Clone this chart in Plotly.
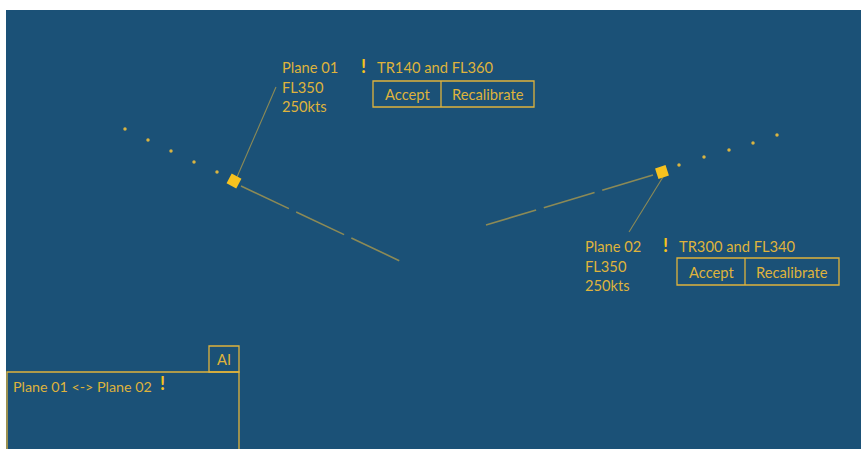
import plotly.graph_objects as go

# ---- data (pixel-space coordinates of the radar scene) ----
plane_names = ["Plane 01", "Plane 02"]
plane_x = [234, 662]
plane_y = [181, 172]
plane_angle = [28, -18]
plane_fl = ["FL350", "FL350"]
plane_speed = ["250kts", "250kts"]
advice = ["TR140 and FL360", "TR300 and FL340"]

trail1_x = [125, 148, 171, 194, 217]
trail1_y = [129, 140, 151, 162, 172]
trail2_x = [679, 704, 729, 753, 777]
trail2_y = [165, 157, 150, 143, 135]

track1_x = [241, 400]
track1_y = [186, 261]
track2_x = [653, 486]
track2_y = [175, 225]

leader1_x = [237, 276]
leader1_y = [177, 87]
leader2_x = [663, 629]
leader2_y = [177, 232]

label_x = [282, 585]
label_y = [67, 246]
alert_x = [363, 665]
advice_x = [377, 679]
box_x0 = [373, 677]
box_div = [441, 745]
box_x1 = [534, 839]
box_y0 = [81, 258]
box_y1 = [107, 285]

ai_text = "Plane 01 <-> Plane 02"

W, H = 861, 449
BG = "#1B5177"
GOLD = "#DFB33C"
BRIGHT = "#F7C21E"
TRACK = "#8C8A56"
FONT = "Lato"
FS = 14.7

fig = go.Figure()

for tx, ty in [(trail1_x, trail1_y), (trail2_x, trail2_y)]:
    fig.add_trace(go.Scatter(x=tx, y=ty, mode="markers",
                             marker=dict(size=3.5, color="#D9B441"),
                             hoverinfo="skip", showlegend=False))
for tx, ty in [(track1_x, track1_y), (track2_x, track2_y)]:
    fig.add_trace(go.Scatter(x=tx, y=ty, mode="lines",
                             line=dict(color=TRACK, width=1.6, dash="53px,8px"),
                             hoverinfo="skip", showlegend=False))
for tx, ty in [(leader1_x, leader1_y), (leader2_x, leader2_y)]:
    fig.add_trace(go.Scatter(x=tx, y=ty, mode="lines",
                             line=dict(color=TRACK, width=1.1),
                             hoverinfo="skip", showlegend=False))
fig.add_trace(go.Scatter(x=plane_x, y=plane_y, mode="markers",
                         marker=dict(symbol="square", size=11, color=BRIGHT,
                                     angle=plane_angle, line=dict(width=0)),
                         hoverinfo="skip", showlegend=False))

shapes = [dict(type="rect", xref="x", yref="y", x0=6, x1=W + 5, y0=10, y1=H + 5,
               fillcolor=BG, line=dict(width=0), layer="below")]
annotations = []
for i in range(2):
    for j, t in enumerate([plane_names[i], plane_fl[i], plane_speed[i]]):
        annotations.append(dict(x=label_x[i] - 1.5, y=label_y[i] + j * 19.5, text=t,
                                xanchor="left", yanchor="middle", showarrow=False,
                                borderpad=0,
                                font=dict(family=FONT, size=FS, color=GOLD)))
    annotations.append(dict(x=alert_x[i], y=label_y[i] - 1, text="<b>!</b>",
                            xanchor="center", yanchor="middle", showarrow=False,
                            font=dict(family=FONT, size=18, color=BRIGHT)))
    annotations.append(dict(x=advice_x[i] - 1.5, y=label_y[i], text=advice[i],
                            xanchor="left", yanchor="middle", showarrow=False,
                            borderpad=0,
                            font=dict(family=FONT, size=FS, color=GOLD)))
    ym = (box_y0[i] + box_y1[i]) / 2
    annotations.append(dict(x=(box_x0[i] + box_div[i]) / 2, y=ym, text="Accept",
                            xanchor="center", yanchor="middle", showarrow=False,
                            font=dict(family=FONT, size=FS, color=GOLD)))
    annotations.append(dict(x=(box_div[i] + box_x1[i]) / 2, y=ym, text="Recalibrate",
                            xanchor="center", yanchor="middle", showarrow=False,
                            font=dict(family=FONT, size=FS, color=GOLD)))
    shapes.append(dict(type="rect", xref="x", yref="y", x0=box_x0[i], x1=box_x1[i],
                       y0=box_y0[i], y1=box_y1[i], line=dict(color=GOLD, width=1.3)))
    shapes.append(dict(type="line", xref="x", yref="y", x0=box_div[i], x1=box_div[i],
                       y0=box_y0[i], y1=box_y1[i], line=dict(color=GOLD, width=1.3)))

shapes.append(dict(type="rect", xref="x", yref="y", x0=7, x1=239, y0=372, y1=H + 10,
                   line=dict(color=GOLD, width=1.3)))
shapes.append(dict(type="rect", xref="x", yref="y", x0=209, x1=239, y0=346, y1=372,
                   line=dict(color=GOLD, width=1.3)))
annotations.append(dict(x=224, y=359, text="AI", xanchor="center", yanchor="middle",
                        showarrow=False, font=dict(family=FONT, size=FS, color=GOLD)))
annotations.append(dict(x=11.5, y=386, text=ai_text, xanchor="left", yanchor="middle",
                        showarrow=False, borderpad=0,
                        font=dict(family=FONT, size=14.3, color=GOLD)))
annotations.append(dict(x=162, y=383, text="<b>!</b>", xanchor="center", yanchor="middle",
                        showarrow=False, font=dict(family=FONT, size=18, color=BRIGHT)))

fig.update_layout(
    width=W, height=H, margin=dict(l=0, r=0, t=0, b=0),
    paper_bgcolor="white", plot_bgcolor="white",
    xaxis=dict(range=[0, W], visible=False, fixedrange=True),
    yaxis=dict(range=[H, 0], visible=False, fixedrange=True),
    shapes=shapes, annotations=annotations,
)
fig.write_html(
    "out.html",
    config={"displayModeBar": False, "staticPlot": True},
    post_script="document.body.style.margin='0';document.body.style.overflow='hidden';",
)
